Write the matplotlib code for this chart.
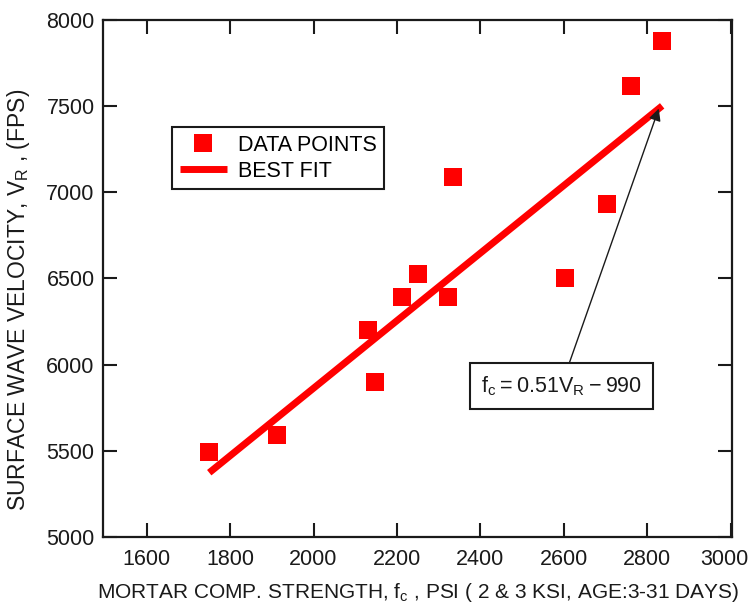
import matplotlib
matplotlib.use("Agg")
import matplotlib.pyplot as plt
import matplotlib.transforms as mtransforms
import numpy as np

plt.rcParams['font.family'] = ['Liberation Sans', 'DejaVu Sans']

# mortar compressive strength (psi) vs surface wave velocity (fps)
strength = [1750, 1912, 2130, 2147, 2212, 2250, 2322, 2334, 2603, 2704, 2762, 2836]
velocity = [5495, 5590, 6200, 5900, 6395, 6525, 6395, 7090, 6500, 6935, 7620, 7878]

# best fit: fc = 0.51 * VR - 990
FIT_SLOPE = 0.51
FIT_INTERCEPT = -990
fit_range = [1750, 2836]

x_ticks = [1600, 1800, 2000, 2200, 2400, 2600, 2800, 3000]
y_ticks = [5000, 5500, 6000, 6500, 7000, 7500, 8000]

INK = '#1a1a1a'

fig = plt.figure(figsize=(7.51, 6.08), dpi=100)
ax = fig.add_axes([0.137, 0.117, 0.838, 0.850])

fit_x = np.array(fit_range, dtype=float)
fit_y = (fit_x - FIT_INTERCEPT) / FIT_SLOPE

ax.plot(strength, velocity, 's', color='#ff0000', markersize=13.5,
        markeredgewidth=0, label='DATA POINTS', zorder=3)
ax.plot(fit_x, fit_y, '-', color='#ff0000', linewidth=5,
        solid_capstyle='butt', label='BEST FIT', zorder=2)

ax.set_xlim(1495, 3004)
ax.set_ylim(5000, 8000)
ax.set_xticks(x_ticks)
ax.set_yticks(y_ticks)
ax.tick_params(direction='in', length=10, width=1.5, top=True, right=True,
               labelsize=15.5, colors=INK)
ax.tick_params(axis='x', pad=9)
ax.tick_params(axis='y', pad=6)
for s in ax.spines.values():
    s.set_linewidth(1.6)
    s.set_color(INK)

# last x label sits against the figure edge, nudge it left a little
last = ax.get_xticklabels()[-1]
last.set_transform(last.get_transform() +
                   mtransforms.ScaledTranslation(-6 / 100, 0, fig.dpi_scale_trans))

ax.set_xlabel(r'MORTAR COMP. STRENGTH, $\mathregular{f_c}$ , PSI ( 2 & 3 KSI, AGE:3-31 DAYS)',
              fontsize=15, color=INK)
ax.xaxis.set_label_coords(0.5, -0.086)
ax.set_ylabel(r'SURFACE WAVE VELOCITY, $\mathregular{V_R}$ , (FPS)',
              fontsize=16.5, color=INK)
ax.yaxis.set_label_coords(-0.113, 0.458)

leg = ax.legend(loc='upper left', bbox_to_anchor=(0.110, 0.793), borderaxespad=0,
                fontsize=15.5, handlelength=2.2, handletextpad=0.5,
                fancybox=False, edgecolor=INK, framealpha=1,
                borderpad=0.35, labelspacing=0.25)
leg.get_frame().set_linewidth(1.5)

tip_x = fit_range[1] - 8
tip_y = (tip_x - FIT_INTERCEPT) / FIT_SLOPE
ax.annotate(r'$\mathregular{f_c = 0.51V_R - 990}$',
            xy=(tip_x, tip_y), xytext=(2594, 5876),
            ha='center', va='center', fontsize=15.5, color=INK,
            bbox=dict(boxstyle='square,pad=0.5', fc='white', ec=INK, lw=1.5),
            arrowprops=dict(arrowstyle='-|>', color=INK, lw=1,
                            mutation_scale=18, shrinkA=0, shrinkB=0))

fig.savefig('out.png', dpi=100)
